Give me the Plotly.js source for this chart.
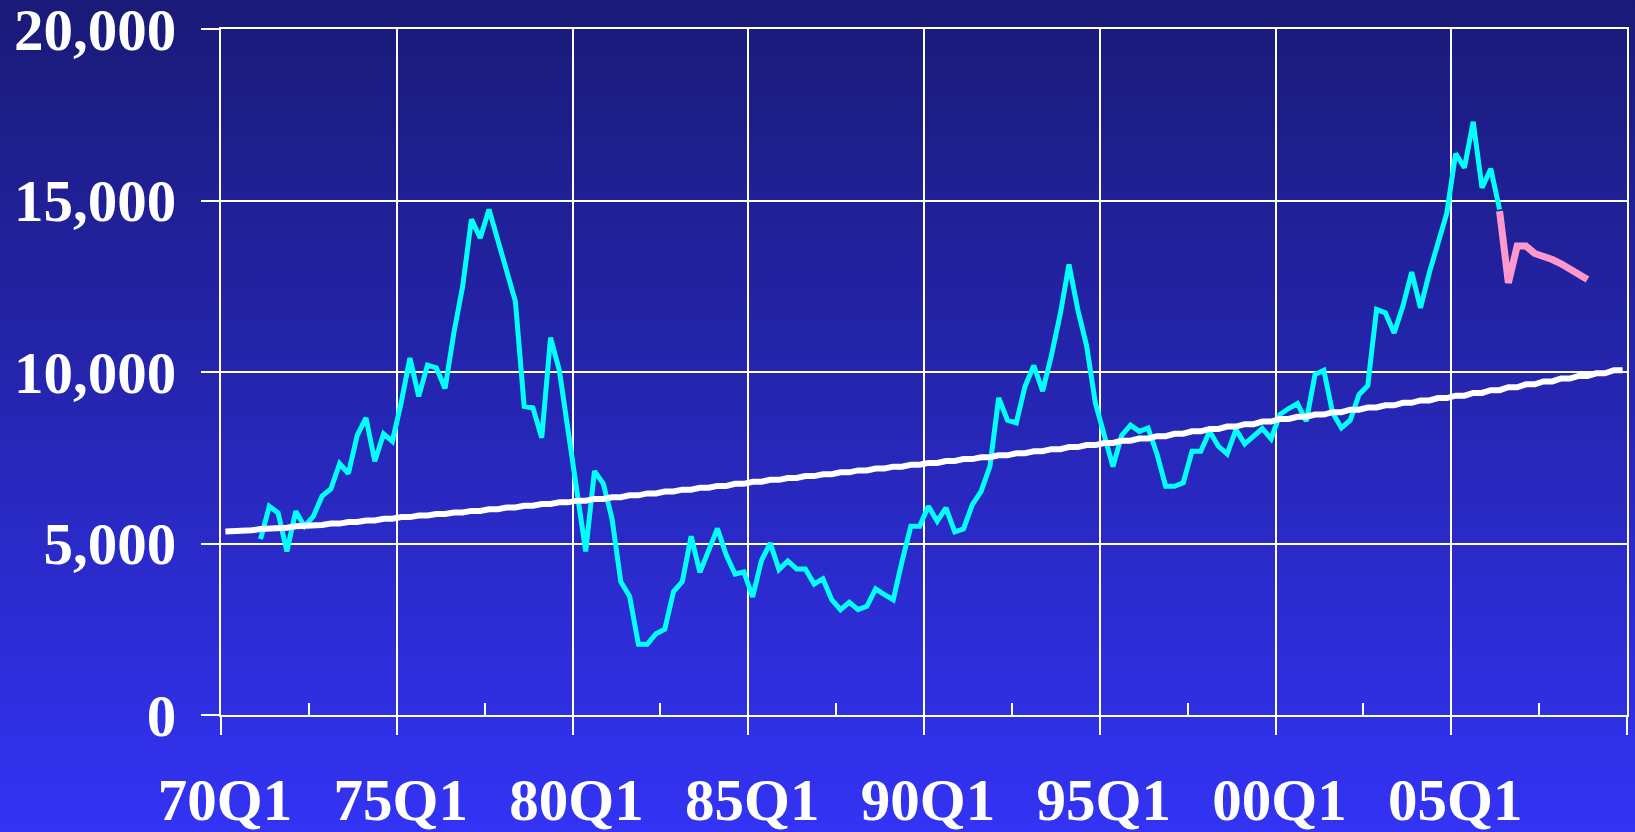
<!DOCTYPE html>
<html><head><meta charset="utf-8">
<script src="https://cdn.plot.ly/plotly-3.0.1.min.js"></script>
<style>
html,body{margin:0;padding:0;width:1635px;height:832px;overflow:hidden;
background:linear-gradient(to bottom,#1a1a78 0%,#2626b4 50%,#3333f5 100%);}
#chart{width:1635px;height:832px;}
</style></head><body><div id="chart"></div>
<script>
// Quarter categories 70Q1 .. 09Q4
const firstYear = 1970, nYears = 40;
const quarters = [];
for (let y = 0; y < nYears; y++) {
  const yy = String((firstYear + y) % 100).padStart(2, '0');
  for (let q = 1; q <= 4; q++) quarters.push(yy + 'Q' + q);
}

// Labelled quarters on the x axis
const tickLabels = ['70Q1','75Q1','80Q1','85Q1','90Q1','95Q1','00Q1','05Q1'];
const minorTickQuarters = ['72Q3','77Q3','82Q3','87Q3','92Q3','97Q3','02Q3','07Q3'];
const yTicks = [0, 5000, 10000, 15000, 20000];

// Trend line (70Q1 .. 09Q4)
const trend = [
 5350,5350,5385,5385, 5420,5420,5460,5460, 5500,5500,5540,5540, 5580,5580,5625,5625,
 5670,5670,5720,5720, 5770,5770,5815,5815, 5860,5860,5905,5905, 5950,5950,6000,6000,
 6050,6050,6100,6100, 6150,6150,6200,6200, 6250,6250,6300,6300, 6350,6350,6405,6405,
 6460,6460,6515,6515, 6570,6570,6625,6625, 6680,6680,6740,6740, 6800,6800,6855,6855,
 6910,6910,6965,6965, 7020,7020,7075,7075, 7130,7130,7185,7185, 7240,7240,7295,7295,
 7350,7350,7405,7405, 7460,7460,7515,7515, 7570,7570,7630,7630, 7690,7690,7750,7750,
 7810,7810,7870,7870, 7930,7930,7995,7995, 8060,8060,8130,8130, 8200,8200,8270,8270,
 8340,8340,8410,8410, 8480,8480,8555,8555, 8630,8630,8695,8695, 8760,8760,8830,8830,
 8900,8900,8965,8965, 9030,9030,9100,9100, 9170,9170,9240,9240, 9310,9310,9390,9390,
 9470,9470,9555,9555, 9640,9640,9725,9725, 9810,9810,9885,9885, 9960,9960,10050,10050
];

// Actual series, starting 71Q1
const actualStart = '71Q1';
const actual = [
 5130, 6085, 5890, 4770, 5940, 5500, 5790, 6380, 6590, 7330,
 7040, 8150, 8660, 7400, 8200, 7980, 9100, 10410, 9290, 10200,
 10120, 9520, 11140, 12500, 14450, 13910, 14740, 13880, 12970, 12060,
 9000, 8950, 8080, 11000, 10050, 8350, 6600, 4770, 7110, 6750,
 5720, 3880, 3460, 2060, 2060, 2370, 2500, 3600, 3890, 5210,
 4160, 4790, 5440, 4660, 4110, 4170, 3440, 4500, 5010, 4240,
 4490, 4260, 4260, 3820, 3970, 3360, 3070, 3285, 3070, 3170,
 3675, 3510, 3360, 4480, 5500, 5500, 6085, 5650, 6040, 5340,
 5425, 6135, 6520, 7250, 9245, 8595, 8515, 9585, 10190, 9440,
 10480, 11680, 13135, 11820, 10770, 9100, 8150, 7240, 8150, 8450,
 8270, 8370, 7620, 6670, 6670, 6770, 7690, 7690, 8270, 7835,
 7610, 8320, 7905, 8110, 8350, 8050, 8760, 8935, 9080, 8565,
 9925, 10050, 8810, 8370, 8595, 9340, 9605, 11820, 11725, 11140,
 11920, 12910, 11870, 12890, 13715, 14640, 16370, 15955, 17295, 15370,
 15925, 14740
];

// Forecast series, starting 06Q2
const forecastStart = '06Q2';
const forecast = [14690, 12600, 13670, 13670, 13455, 13380, 13280, 13155, 12990, 12865, 12700];

function xs(startLabel, n) {
  const s = quarters.indexOf(startLabel);
  return Array.from({length: n}, (_, i) => s + i);
}

const majorVals = tickLabels.map(l => quarters.indexOf(l) - 0.5).concat([quarters.length - 0.5]);
const majorText = tickLabels.concat(['']);
const minorVals = minorTickQuarters.map(l => quarters.indexOf(l) - 0.5);

const traces = [
  {x: xs(actualStart, actual.length), y: actual, text: quarters.slice(quarters.indexOf(actualStart)),
   type: 'scatter', mode: 'lines', line: {color: '#00ffff', width: 5}},
  {x: xs('70Q1', trend.length), y: trend, type: 'scatter', mode: 'lines',
   line: {color: '#ffffff', width: 6}},
  {x: xs(forecastStart, forecast.length), y: forecast, type: 'scatter', mode: 'lines',
   line: {color: '#ff99cc', width: 7}}
];

const tickFont = {family: '"Liberation Serif", "Times New Roman", serif', size: 59, color: '#ffffff', weight: 700};

const layout = {
  width: 1635, height: 832,
  margin: {l: 221, r: 8, t: 29, b: 117},
  paper_bgcolor: 'rgba(0,0,0,0)', plot_bgcolor: 'rgba(0,0,0,0)',
  showlegend: false, hovermode: false,
  xaxis: {
    range: [-0.5, quarters.length - 0.5], tickmode: 'array', tickvals: majorVals, ticktext: majorText,
    ticks: 'outside', ticklen: 18, tickwidth: 2, tickcolor: '#ffffff',
    showgrid: true, gridcolor: '#ffffff', gridwidth: 2,
    showline: true, mirror: true, linecolor: '#ffffff', linewidth: 2, zeroline: false,
    tickfont: tickFont, ticklabelstandoff: 14, ticklabelshift: 4, ticklabeloverflow: 'allow',
    minor: {tickmode: 'array', tickvals: minorVals, ticks: 'inside', ticklen: 12, tickwidth: 2, tickcolor: '#ffffff', showgrid: false},
    fixedrange: true
  },
  yaxis: {
    range: [0, 20000], tickmode: 'array', tickvals: yTicks, tickformat: ',d',
    ticks: 'outside', ticklen: 18, tickwidth: 2, tickcolor: '#ffffff',
    showgrid: true, gridcolor: '#ffffff', gridwidth: 2,
    showline: true, mirror: true, linecolor: '#ffffff', linewidth: 2, zeroline: false,
    tickfont: tickFont, ticklabelstandoff: 13, ticklabeloverflow: 'allow',
    fixedrange: true
  }
};

Plotly.newPlot('chart', traces, layout, {displayModeBar: false, staticPlot: true});
</script></body></html>
